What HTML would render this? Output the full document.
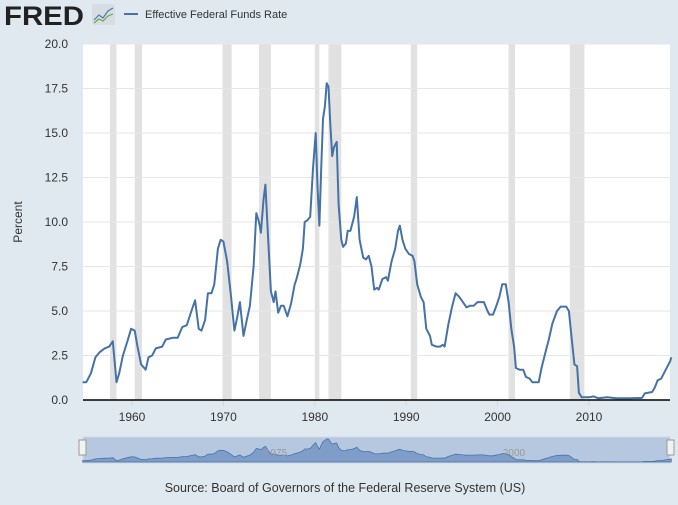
<!DOCTYPE html>
<html><head><meta charset="utf-8"><style>
body{margin:0;width:678px;height:500px;background:#e1e9f0;font-family:"Liberation Sans",sans-serif;overflow:hidden}
</style></head><body>
<svg id="c" width="678" height="500" xmlns="http://www.w3.org/2000/svg">
<text x="4" y="25" font-size="27" font-weight="bold" fill="#222" textLength="80" lengthAdjust="spacingAndGlyphs">FRED</text>
<rect x="92" y="4" width="23" height="21" rx="2" fill="#d8dde2"/>
<polyline points="94,20 99,15 103,18 108,11 113,8" fill="none" stroke="#4a7ab5" stroke-width="1.2"/>
<polyline points="94,23 99,19 103,21 108,16 113,14" fill="none" stroke="#6aa84f" stroke-width="1.2"/>
<line x1="124" y1="14" x2="138" y2="14" stroke="#4572a7" stroke-width="2"/>
<text x="145" y="18" font-size="11" fill="#333">Effective Federal Funds Rate</text>
<rect x="83" y="44" width="587" height="356" fill="#fff"/>
<g id="rec"></g><g id="grid"></g><g id="ax"></g>
<path id="line" fill="none" stroke="#4572a7" stroke-width="2" stroke-linejoin="round"/>
<line x1="83" y1="400" x2="670" y2="400" stroke="#000" stroke-width="1.5"/>
<text x="22" y="222" font-size="12" fill="#333" text-anchor="middle" transform="rotate(-90 22 222)">Percent</text>
<rect x="83" y="437" width="587" height="26" fill="#b6c8e0" stroke="#cfd8e2"/>
<path id="nav" fill="#7f9dc8" stroke="#4572a7" stroke-width="0.8"/>
<text x="276" y="456" font-size="10" fill="#999" text-anchor="middle">1975</text>
<text x="514" y="456" font-size="10" fill="#999" text-anchor="middle">2000</text>
<rect x="79" y="440" width="7" height="15" fill="#f2f2f2" stroke="#999"/>
<rect x="667" y="440" width="7" height="15" fill="#f2f2f2" stroke="#999"/>
<text x="345" y="492" font-size="12.5" fill="#333" text-anchor="middle">Source: Board of Governors of the Federal Reserve System (US)</text>
</svg>
<script>
const years=[1954.6,1955,1955.5,1956,1956.5,1957,1957.5,1957.9,1958.3,1958.6,1959,1959.5,1959.9,1960.3,1960.6,1961,1961.5,1961.8,1962.2,1962.6,1963.3,1963.7,1964.5,1965,1965.5,1966,1966.5,1966.9,1967.3,1967.6,1968,1968.3,1968.7,1969,1969.4,1969.7,1970,1970.4,1970.8,1971.2,1971.5,1971.8,1972.2,1972.6,1972.9,1973.3,1973.6,1973.9,1974.1,1974.4,1974.6,1974.9,1975.2,1975.5,1975.7,1976,1976.3,1976.6,1977,1977.4,1977.8,1978,1978.4,1978.7,1978.9,1979.2,1979.5,1979.8,1980.1,1980.3,1980.5,1980.7,1980.9,1981.1,1981.3,1981.5,1981.7,1981.9,1982.1,1982.4,1982.6,1982.9,1983.1,1983.4,1983.6,1983.9,1984.3,1984.6,1984.9,1985.3,1985.6,1985.9,1986.2,1986.5,1986.8,1987,1987.4,1987.8,1988,1988.4,1988.8,1989.1,1989.3,1989.6,1989.9,1990.3,1990.7,1990.9,1991.2,1991.6,1991.9,1992.2,1992.6,1992.8,1993.3,1993.7,1994,1994.2,1994.6,1995,1995.4,1995.8,1996.2,1996.6,1997,1997.4,1997.8,1998.5,1998.9,1999.1,1999.5,1999.8,2000.2,2000.5,2000.9,2001.2,2001.5,2001.8,2002,2002.4,2002.8,2003.1,2003.5,2003.8,2004.5,2004.8,2005.2,2005.6,2006,2006.5,2006.9,2007.5,2007.8,2008.1,2008.4,2008.7,2008.9,2009.2,2010,2010.5,2011,2012,2013,2014.5,2015.8,2016.1,2016.9,2017.2,2017.5,2017.9,2018.2,2018.6,2018.9,2019.0];
const rates=[1.0,1.0,1.5,2.4,2.7,2.9,3.0,3.3,1.0,1.5,2.5,3.3,4.0,3.9,3.0,2.0,1.7,2.4,2.5,2.9,3.0,3.4,3.5,3.5,4.1,4.2,5.0,5.6,4.0,3.9,4.5,6.0,6.0,6.5,8.5,9.0,8.9,7.8,6.0,3.9,4.6,5.5,3.6,4.6,5.3,7.5,10.5,10.0,9.4,11.3,12.1,9.0,6.1,5.5,6.1,4.9,5.3,5.3,4.7,5.4,6.5,6.8,7.6,8.5,10.0,10.1,10.3,13.0,15.0,12.0,9.8,13.0,15.8,16.5,17.8,17.6,15.5,13.7,14.2,14.5,11.0,9.0,8.6,8.8,9.5,9.5,10.3,11.4,9.0,8.0,7.9,8.1,7.5,6.2,6.3,6.2,6.8,6.9,6.7,7.8,8.5,9.5,9.8,9.0,8.5,8.2,8.1,7.8,6.5,5.8,5.5,4.0,3.6,3.1,3.0,3.0,3.1,3.0,4.2,5.2,6.0,5.8,5.5,5.2,5.3,5.3,5.5,5.5,5.0,4.8,4.8,5.2,5.8,6.5,6.5,5.5,4.0,3.0,1.8,1.7,1.7,1.3,1.2,1.0,1.0,1.8,2.6,3.4,4.3,5.0,5.25,5.25,5.0,3.5,2.0,1.9,0.4,0.15,0.15,0.2,0.1,0.15,0.1,0.1,0.12,0.37,0.45,0.7,1.1,1.2,1.5,1.9,2.2,2.4];
const recStart=[1957.6,1960.3,1969.9,1973.9,1980.0,1981.5,1990.5,2001.2,2007.9];
const recEnd=[1958.3,1961.1,1970.9,1975.2,1980.5,1982.9,1991.2,2001.9,2009.5];
const yTicks=[0,2.5,5,7.5,10,12.5,15,17.5,20];
const xTicks=[1960,1970,1980,1990,2000,2010];
const X=y=>132+(y-1960)*9.14, Y=v=>400-v*17.8;
const NS='http://www.w3.org/2000/svg';
function mk(p,t,a){const e=document.createElementNS(NS,t);for(const k in a)e.setAttribute(k,a[k]);document.getElementById(p).appendChild(e);return e;}
recStart.forEach((s,i)=>{const r=mk('rec','rect',{x:X(s),y:44,width:X(recEnd[i])-X(s),height:356,fill:'#e1e1e1'});

});
yTicks.forEach(v=>{const l=mk('grid','line',{x1:83,x2:670,y1:Y(v),y2:Y(v),stroke:'#e6e6e6'});


const t=mk('ax','text',{x:68,y:Y(v)+4,'font-size':12,fill:'#333','text-anchor':'end'});t.textContent=v.toFixed(1);

});
xTicks.forEach(v=>{const t=mk('ax','text',{x:X(v),y:421,'font-size':12,fill:'#333','text-anchor':'middle'});t.textContent=v;


const k=mk('ax','line',{x1:X(v),x2:X(v),y1:400,y2:406,stroke:'#ccd6eb'});

});
document.getElementById('line').setAttribute('d',years.map((y,i)=>(i?'L':'M')+X(y).toFixed(1)+','+Y(rates[i]).toFixed(1)).join(''));
const NY=v=>462-v*1.3;
document.getElementById('nav').setAttribute('d','M'+X(years[0])+',462'+years.map((y,i)=>'L'+X(y).toFixed(1)+','+NY(rates[i]).toFixed(1)).join('')+'L'+X(years[years.length-1])+',462Z');
</script>
</body></html>
